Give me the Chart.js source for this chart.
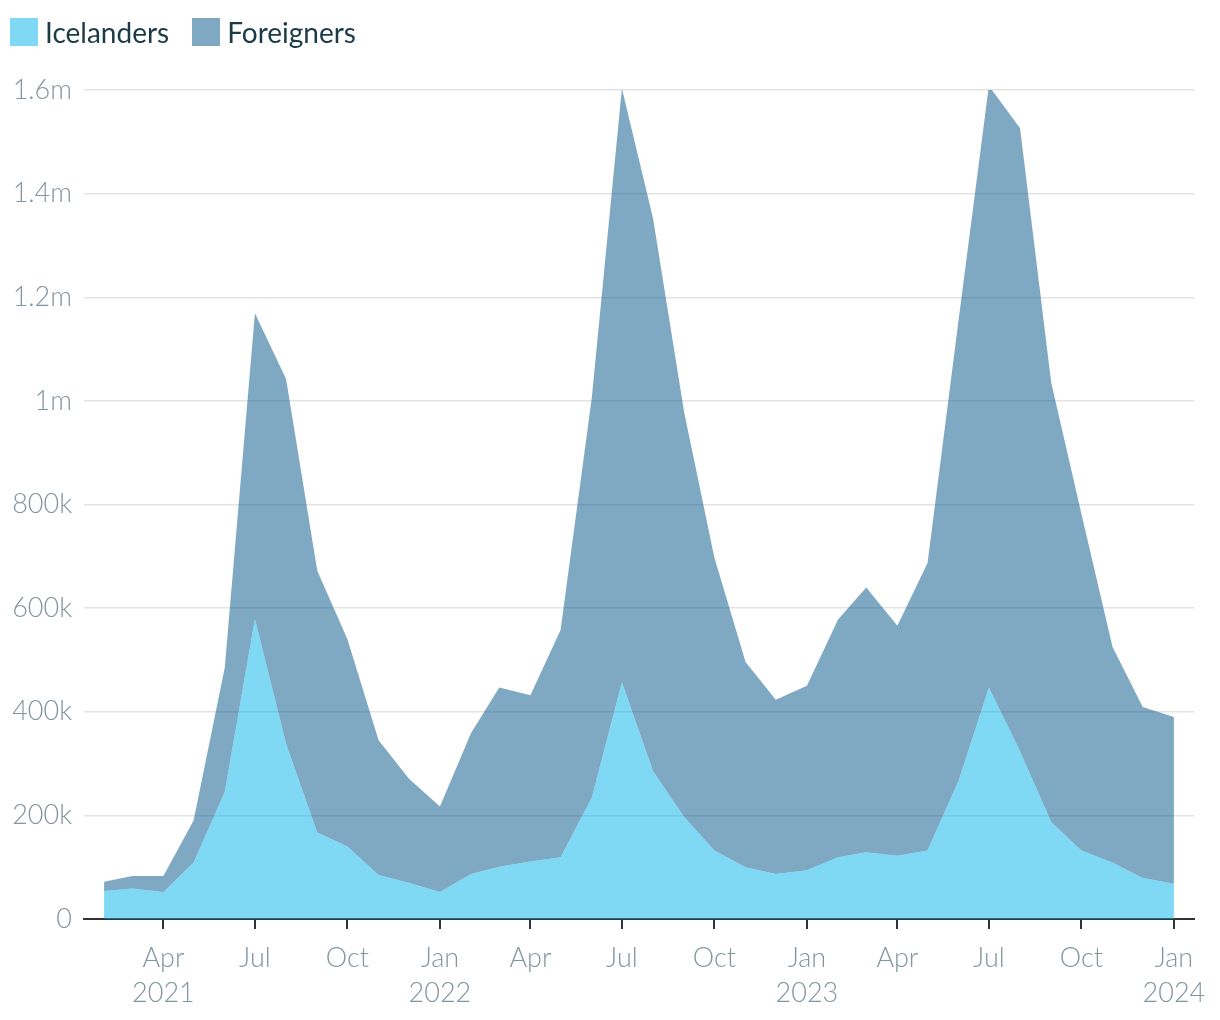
<!DOCTYPE html>
<html>
<head>
<meta charset="utf-8">
<script src="https://cdn.jsdelivr.net/npm/chart.js@4.4.1/dist/chart.umd.min.js"></script>
<style>
  body { margin: 0; background: #fff; }
  #wrap { position: relative; width: 1220px; height: 1020px; }
  #legend { position: absolute; left: 10px; top: 18px; display: flex; font: 400 28px Lato, sans-serif; color: #1c3b48; }
  .item { display: flex; align-items: center; margin-right: 23px; height: 28px; }
  .box { width: 28px; height: 28px; margin-right: 7px; }
</style>
</head>
<body>
<div id="wrap">
  <canvas id="chart" width="1220" height="1020"></canvas>
  <div id="legend"></div>
</div>
<script>
// monthly guest nights, Feb 2021 - Jan 2024
let months = [
  '2021-02','2021-03','2021-04','2021-05','2021-06','2021-07','2021-08','2021-09','2021-10','2021-11','2021-12',
  '2022-01','2022-02','2022-03','2022-04','2022-05','2022-06','2022-07','2022-08','2022-09','2022-10','2022-11','2022-12',
  '2023-01','2023-02','2023-03','2023-04','2023-05','2023-06','2023-07','2023-08','2023-09','2023-10','2023-11','2023-12',
  '2024-01'
];

let icelanders = [
  54000, 59000, 52000, 109000, 245000, 579000, 338000, 167000, 140000, 85000, 70000,
  52000, 87000, 101000, 111000, 119000, 234000, 457000, 285000, 197000, 132000, 100000, 87000,
  94000, 119000, 129000, 122000, 132000, 268000, 447000, 324000, 187000, 132000, 109000, 79000,
  68000
];

let foreigners = [
  18000, 24000, 31000, 81000, 240000, 590000, 704000, 505000, 400000, 260000, 201000,
  165000, 272000, 346000, 321000, 439000, 771000, 1146000, 1067000, 780000, 565000, 396000, 336000,
  356000, 459000, 511000, 444000, 555000, 890000, 1161000, 1202000, 848000, 650000, 416000, 330000,
  322000
];

let xTickMonths = ['2021-04','2021-07','2021-10','2022-01','2022-04','2022-07','2022-10','2023-01','2023-04','2023-07','2023-10','2024-01'];
let xTickLabels = [['Apr','2021'],'Jul','Oct',['Jan','2022'],'Apr','Jul','Oct',['Jan','2023'],'Apr','Jul','Oct',['Jan','2024']];

let yTicks = [0, 200000, 400000, 600000, 800000, 1000000, 1200000, 1400000, 1600000];
let yTickLabels = ['0','200k','400k','600k','800k','1m','1.2m','1.4m','1.6m'];

function dayOf(s) {
  let p = s.split('-');
  return Date.UTC(+p[0], +p[1] - 1, 1) / 864e5;
}

function toPoints(arr) {
  return arr.map((v, i) => ({ x: dayOf(months[i]), y: v }));
}

let tickFont = { family: 'Lato', size: 27, weight: 300, lineHeight: 1.3 };
let tickColor = '#82969f';

let data = {
  datasets: [{
    label: 'Icelanders',
    data: toPoints(icelanders),
    fill: 'origin',
    backgroundColor: 'rgba(0, 180, 235, 0.5)',
    legendColor: '#7fd9f5',
    borderWidth: 0,
    pointRadius: 0,
    tension: 0,
    clip: false
  }, {
    label: 'Foreigners',
    data: toPoints(foreigners),
    fill: '-1',
    backgroundColor: 'rgba(0, 82, 133, 0.5)',
    legendColor: '#7fa8c2',
    borderWidth: 0,
    pointRadius: 0,
    tension: 0,
    clip: false
  }]
};

let myChart = new Chart(document.getElementById('chart'), {
  type: 'line',
  data: data,
  options: {
    responsive: false,
    animation: false,
    layout: { padding: { top: 90, right: 26, bottom: 0, left: 0 } },
    plugins: {
      legend: { display: false },
      tooltip: { enabled: false }
    },
    scales: {
      x: {
        type: 'linear',
        min: dayOf(months[0]) - 20,
        max: dayOf(months[months.length - 1]) + 20,
        afterBuildTicks: (scale) => {
          scale.ticks = xTickMonths.map(m => ({ value: dayOf(m) }));
        },
        afterFit: (scale) => { scale.height = 101; },
        grid: { drawOnChartArea: false, drawTicks: true, tickLength: 10, color: '#333333', lineWidth: 2 },
        border: { display: true, color: '#333333', width: 2 },
        ticks: {
          autoSkip: false,
          maxRotation: 0,
          padding: 12,
          color: tickColor,
          font: tickFont,
          callback: (value, index) => xTickLabels[index]
        }
      },
      y: {
        stacked: true,
        min: 0,
        max: 1600000,
        afterBuildTicks: (scale) => {
          scale.ticks = yTicks.map(v => ({ value: v }));
        },
        afterFit: (scale) => { scale.width = 84; },
        grid: { color: '#e3e3e3', lineWidth: 1.5, drawTicks: false },
        border: { display: false },
        ticks: {
          padding: 12,
          color: tickColor,
          font: tickFont,
          callback: (value, index) => yTickLabels[index]
        }
      }
    }
  }
});

// legend
let legend = document.getElementById('legend');
data.datasets.forEach(ds => {
  let item = document.createElement('div');
  item.className = 'item';
  item.innerHTML = '<span class="box" style="background:' + ds.legendColor + '"></span><span>' + ds.label + '</span>';
  legend.appendChild(item);
});
</script>
</body>
</html>
